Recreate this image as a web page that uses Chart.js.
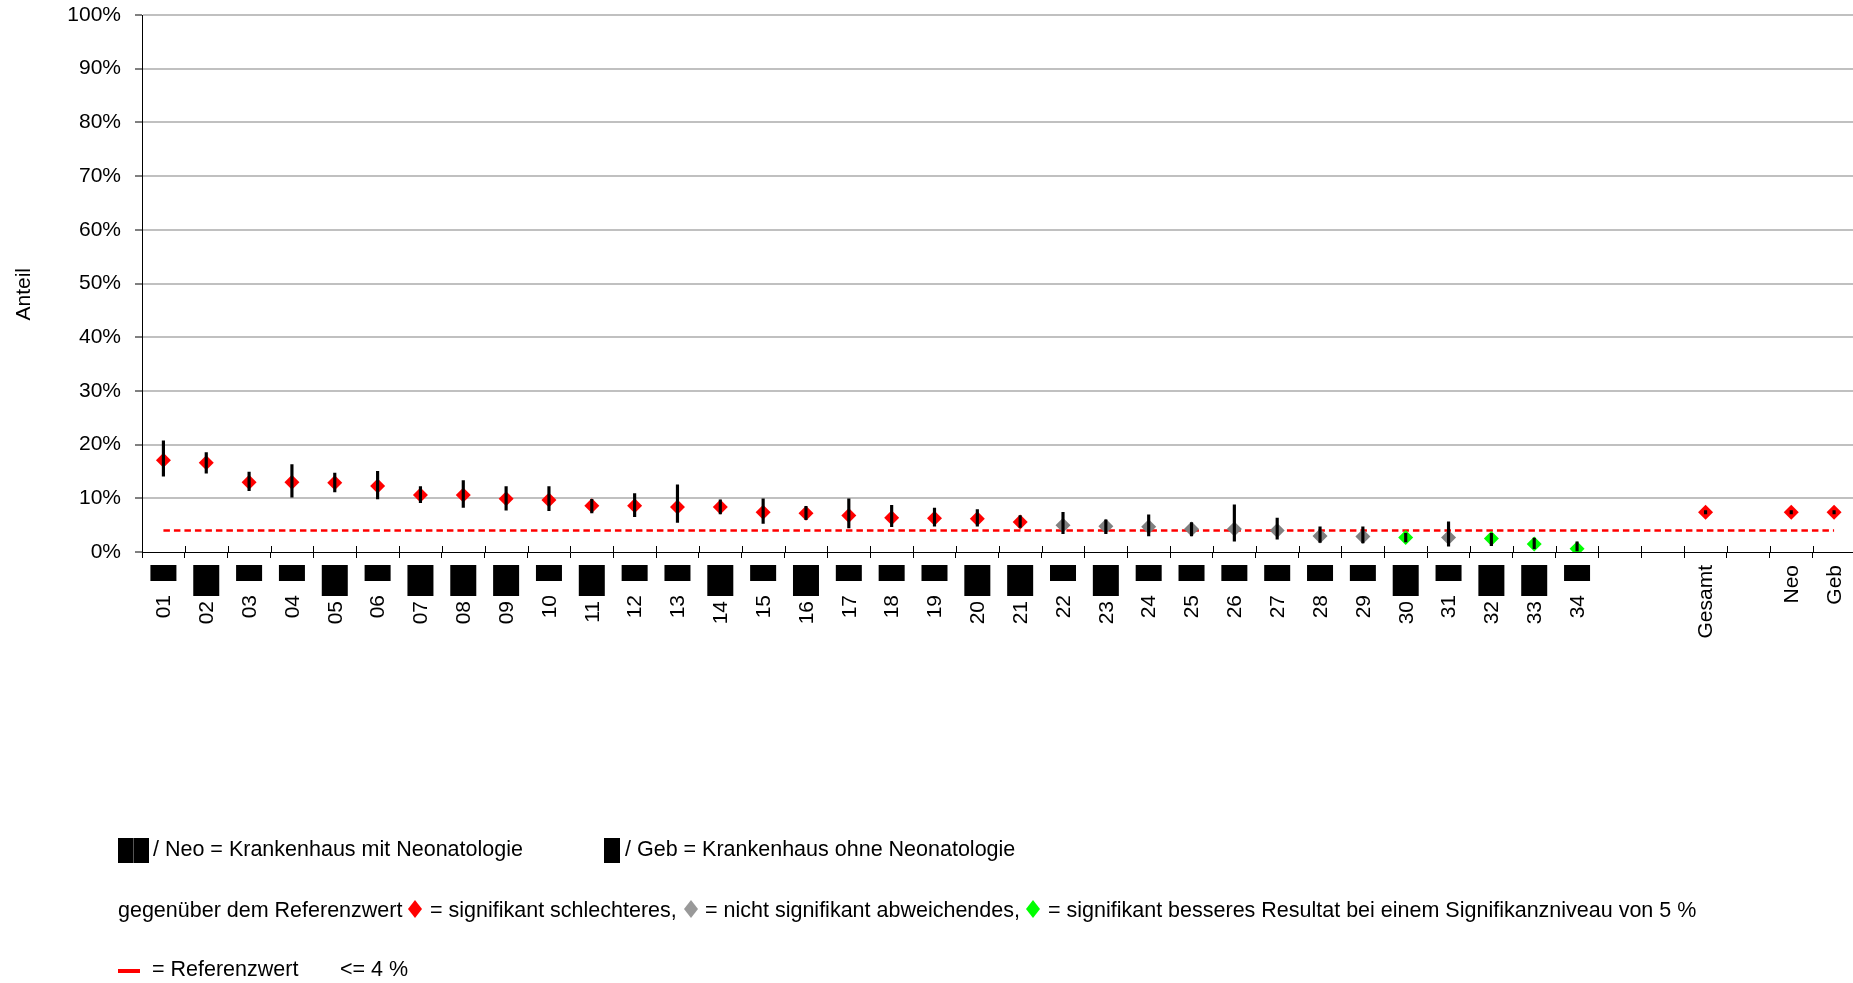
<!DOCTYPE html>
<html>
<head>
<meta charset="utf-8">
<script src="https://cdn.jsdelivr.net/npm/chart.js@4.4.1/dist/chart.umd.min.js"></script>
<style>
  html, body { margin: 0; padding: 0; background: #fff; overflow: hidden; }
  #wrap { position: relative; width: 1853px; height: 983px; overflow: hidden; }
  canvas { position: absolute; left: 0; top: 0; }
  .leg { position: absolute; font-family: "Liberation Sans", Arial, sans-serif; font-size: 21.5px; line-height: 25px; color: #000; white-space: nowrap; }
  .blk { position: absolute; background: #000; }
  .dia { position: absolute; width: 14px; height: 18px; clip-path: polygon(50% 0, 100% 50%, 50% 100%, 0 50%); }
</style>
</head>
<body>
<div id="wrap">
  <canvas id="chart" width="1863" height="983"></canvas>

  <div class="blk" style="left:118px;top:838px;width:31px;height:25px"></div>
  <div class="blk" style="left:133px;top:838px;width:1px;height:25px;background:#555"></div>
  <div class="leg" style="left:153px;top:837px">/ Neo = Krankenhaus mit Neonatologie</div>
  <div class="blk" style="left:604px;top:838px;width:16px;height:25px"></div>
  <div class="leg" style="left:625px;top:837px">/ Geb = Krankenhaus ohne Neonatologie</div>

  <div class="leg" style="left:118px;top:898px">gegenüber dem Referenzwert</div>
  <div class="dia" style="left:408px;top:900px;background:#ff0000"></div>
  <div class="leg" style="left:430px;top:898px">= signifikant schlechteres,</div>
  <div class="dia" style="left:684px;top:900px;background:#999999"></div>
  <div class="leg" style="left:705px;top:898px">= nicht signifikant abweichendes,</div>
  <div class="dia" style="left:1026px;top:900px;background:#00ff00"></div>
  <div class="leg" style="left:1048px;top:898px">= signifikant besseres Resultat bei einem Signifikanzniveau von 5 %</div>

  <div class="blk" style="left:118px;top:969px;width:22px;height:4px;background:#ff0000"></div>
  <div class="leg" style="left:152px;top:957px">= Referenzwert</div>
  <div class="leg" style="left:340px;top:957px">&lt;= 4 %</div>
</div>

<script>
// categories on the x axis (empty ones are gaps)
const categories = ['01','02','03','04','05','06','07','08','09','10','11','12','13','14','15','16','17',
  '18','19','20','21','22','23','24','25','26','27','28','29','30','31','32','33','34',
  '', '', 'Gesamt', '', 'Neo', 'Geb']

// N = Krankenhaus mit Neonatologie (big box), G = ohne (small box)
const hospitalType = ['G','N','G','G','N','G','N','N','N','G','N','G','G','N','G','N','G',
  'G','G','N','N','G','N','G','G','G','G','G','G','N','G','N','N','G',
  '', '', '', '', '', '']

// Anteil in %
const estimate = [17.1,16.6,13.0,13.0,12.9,12.3,10.6,10.6,9.9,9.7,8.6,8.6,8.4,8.4,7.4,7.2,6.8,
  6.4,6.3,6.2,5.6,5.0,4.8,4.7,4.3,4.3,4.0,3.0,2.9,2.7,2.7,2.5,1.5,0.6,
  null,null,7.4,null,7.4,7.4]
const lower = [14.1,14.7,11.4,10.2,11.2,9.9,9.2,8.3,7.8,7.7,7.3,6.6,5.5,7.1,5.3,6.0,4.5,
  4.7,4.8,4.8,4.6,3.4,3.4,3.0,3.0,2.0,2.4,1.8,1.7,1.9,1.1,1.2,0.6,0.0,
  null,null,7.1,null,7.1,7.1]
const upper = [20.7,18.5,14.9,16.3,14.7,15.0,12.2,13.3,12.2,12.2,9.8,10.9,12.5,9.7,9.9,8.5,9.9,
  8.7,8.2,7.9,6.8,7.4,6.0,6.9,5.5,8.8,6.3,4.7,4.7,3.5,5.6,3.5,2.6,1.9,
  null,null,7.7,null,7.7,7.7]

// w = signifikant schlechter, n = nicht signifikant, b = signifikant besser
const signif = ['w','w','w','w','w','w','w','w','w','w','w','w','w','w','w','w','w',
  'w','w','w','w','n','n','n','n','n','n','n','n','b','n','b','b','b',
  '', '', 'w', '', 'w', 'w']

const referenceValue = 4
const yTitle = 'Anteil'

const signifColors = { w: '#ff0000', n: '#808080', b: '#00ff00', '': 'rgba(0,0,0,0)' }
const FONT = '"Liberation Sans", Arial, sans-serif'

// boxes and rotated labels under the x axis, plus the y title
const belowAxis = {
    id: 'belowAxis',
    afterDraw(chart) {
        const ctx = chart.ctx
        const xs = chart.scales.x
        const ys = chart.scales.y
        const y0 = chart.chartArea.bottom
        ctx.save()
        // upper half of the crossing tick marks
        ctx.strokeStyle = '#000'
        ctx.lineWidth = 1
        ctx.beginPath()
        for (let i = 0; i <= categories.length; i++) {
            const px = Math.round(xs.getPixelForValue(i - 0.5)) + 0.5
            ctx.moveTo(px, y0 - 6)
            ctx.lineTo(px, y0)
        }
        ctx.stroke()

        ctx.font = '21px ' + FONT
        ctx.fillStyle = '#000'
        ctx.textAlign = 'right'
        ctx.textBaseline = 'middle'
        categories.forEach((lab, i) => {
            const cx = xs.getPixelForValue(i)
            const t = hospitalType[i]
            if (t) {
                const h = t === 'N' ? 31 : 16
                ctx.fillRect(cx - 13, y0 + 13, 26, h)
            }
            if (lab) {
                const top = t === 'N' ? y0 + 49 : (t === 'G' ? y0 + 43 : y0 + 13)
                ctx.save()
                ctx.translate(cx + 1, top)
                ctx.rotate(-Math.PI / 2)
                ctx.fillText(lab, 0, 0)
                ctx.restore()
            }
        })

        // y axis title, a bit below the middle like the original
        ctx.textAlign = 'center'
        ctx.save()
        ctx.translate(24, ys.getPixelForValue(48))
        ctx.rotate(-Math.PI / 2)
        ctx.fillText(yTitle, 0, 0)
        ctx.restore()
        ctx.restore()
    }
}

const ctx = document.getElementById('chart')
const chart = new Chart(ctx, {
    type: 'bar',
    data: {
        labels: categories,
        datasets: [{
            type: 'bar',
            label: 'Vertrauensbereich',
            data: lower.map((lo, i) => lo == null ? null : [lo, upper[i]]),
            backgroundColor: '#000',
            borderWidth: 0,
            barThickness: 2.5,
            order: 0
        }, {
            type: 'line',
            label: 'Anteil',
            data: estimate,
            showLine: false,
            pointStyle: 'rectRot',
            pointRadius: 7.5,
            pointBorderWidth: 0,
            pointBackgroundColor: signif.map(s => signifColors[s]),
            order: 1
        }, {
            type: 'line',
            label: 'Referenzwert',
            data: categories.map(() => referenceValue),
            borderColor: '#ff0000',
            borderWidth: 2.5,
            borderDash: [6.5, 4],
            pointRadius: 0,
            fill: false,
            order: 2
        }]
    },
    options: {
        responsive: false,
        animation: false,
        layout: { padding: { top: 15, left: 0, right: 0, bottom: 0 } },
        plugins: {
            legend: { display: false },
            tooltip: { enabled: false }
        },
        scales: {
            x: {
                offset: true,
                grid: { offset: true, drawOnChartArea: false, drawTicks: true, tickLength: 6, color: '#000', lineWidth: 1 },
                border: { color: '#000', width: 1 },
                ticks: { display: false },
                afterFit: (scale) => { scale.height = 983 - 552 }
            },
            y: {
                min: 0,
                max: 100,
                ticks: {
                    stepSize: 10,
                    padding: 14,
                    color: '#000',
                    font: { family: FONT, size: 21 },
                    callback: (v) => v + '%'
                },
                grid: {
                    color: (c) => c.tick && c.tick.value === 0 ? 'rgba(0,0,0,0)' : '#c0c0c0',
                    lineWidth: 2,
                    tickColor: '#000',
                    tickWidth: 1,
                    tickLength: 7
                },
                border: { color: '#000', width: 1 },
                afterFit: (scale) => {
                    scale.width = 142
                    scale.paddingTop = 0
                    scale.paddingBottom = 0
                }
            }
        }
    },
    plugins: [belowAxis]
})
</script>
</body>
</html>
